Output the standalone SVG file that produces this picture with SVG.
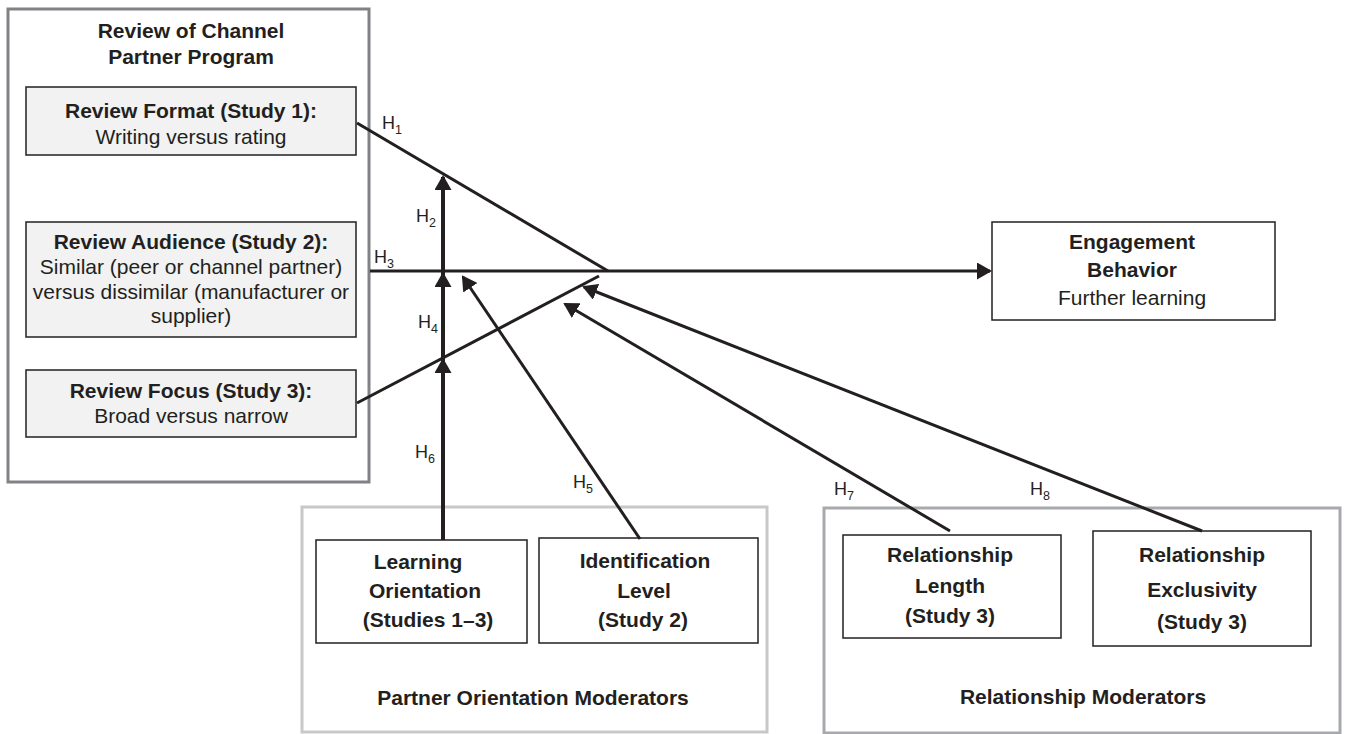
<svg xmlns="http://www.w3.org/2000/svg" width="1346" height="734" viewBox="0 0 1346 734">
<defs>
<style>
text{font-family:"Liberation Sans",Arial,sans-serif;fill:#231f20;font-size:21px}
.b{font-weight:bold}
.c{text-anchor:middle}
.h{font-size:18px}
.s{font-size:12.5px}
.inner{fill:#f1f2f1;stroke:#231f20;stroke-width:1.5}
.wbox{fill:#fff;stroke:#231f20;stroke-width:1.5}
.conn{stroke:#231f20;stroke-width:3;fill:none}
.thick{stroke-width:4}
</style>
<marker id="ah" viewBox="0 0 15 17" refX="13" refY="8.5" markerWidth="15" markerHeight="17" markerUnits="userSpaceOnUse" orient="auto">
<path d="M0,0 L15,8.5 L0,17 z" fill="#231f20"/>
</marker>
</defs>
<rect width="1346" height="734" fill="#fff"/>

<g id="review-program">
<rect x="8" y="9" width="361" height="473" fill="#fff" stroke="#808285" stroke-width="3"/>
<text class="b c" x="191" y="38">Review of Channel</text>
<text class="b c" x="191" y="64">Partner Program</text>
</g>

<g id="review-format">
<rect class="inner" x="26" y="87" width="330" height="68"/>
<text class="b c" x="191" y="118">Review Format (Study 1):</text>
<text class="c" x="191" y="144">Writing versus rating</text>
</g>

<g id="review-audience">
<rect class="inner" x="26" y="222" width="330" height="115"/>
<text class="b c" x="191" y="249">Review Audience (Study 2):</text>
<text class="c" x="191" y="274">Similar (peer or channel partner)</text>
<text class="c" x="191" y="299">versus dissimilar (manufacturer or</text>
<text class="c" x="191" y="323">supplier)</text>
</g>

<g id="review-focus">
<rect class="inner" x="26" y="370" width="330" height="67"/>
<text class="b c" x="191" y="398">Review Focus (Study 3):</text>
<text class="c" x="191" y="423">Broad versus narrow</text>
</g>

<g id="engagement">
<rect class="wbox" x="992" y="222" width="283" height="98"/>
<text class="b c" x="1132" y="249">Engagement</text>
<text class="b c" x="1132" y="277">Behavior</text>
<text class="c" x="1132" y="305">Further learning</text>
</g>

<g id="partner-moderators">
<rect x="302" y="507" width="465" height="225" fill="#fff" stroke="#c7c8ca" stroke-width="3"/>
<text class="b c" x="533" y="705">Partner Orientation Moderators</text>
</g>

<g id="learning-orientation">
<rect class="wbox" x="316" y="540" width="211" height="103"/>
<text class="b c" x="418" y="569">Learning</text>
<text class="b c" x="425" y="598">Orientation</text>
<text class="b c" x="428" y="627">(Studies 1–3)</text>
</g>

<g id="identification-level">
<rect class="wbox" x="539" y="538" width="219" height="105"/>
<text class="b c" x="645" y="568">Identification</text>
<text class="b c" x="644" y="598">Level</text>
<text class="b c" x="643" y="627">(Study 2)</text>
</g>

<g id="relationship-moderators">
<rect x="824" y="508" width="516" height="225" fill="#fff" stroke="#a7a9ac" stroke-width="3"/>
<text class="b c" x="1083" y="704">Relationship Moderators</text>
</g>

<g id="relationship-length">
<rect class="wbox" x="843" y="535" width="218" height="103"/>
<text class="b c" x="950" y="562">Relationship</text>
<text class="b c" x="950" y="593">Length</text>
<text class="b c" x="950" y="623">(Study 3)</text>
</g>

<g id="relationship-exclusivity">
<rect class="wbox" x="1093" y="531" width="218" height="115"/>
<text class="b c" x="1202" y="562">Relationship</text>
<text class="b c" x="1202" y="597">Exclusivity</text>
<text class="b c" x="1202" y="629">(Study 3)</text>
</g>

<g id="connectors">
<line class="conn" x1="357" y1="123" x2="608" y2="271"/>
<line class="conn" x1="357" y1="403" x2="599" y2="276"/>
<line class="conn" x1="370" y1="271" x2="990" y2="271" marker-end="url(#ah)"/>
<line class="conn thick" x1="443" y1="540" x2="443" y2="360" marker-end="url(#ah)"/>
<line class="conn thick" x1="443" y1="360" x2="443" y2="274" marker-end="url(#ah)"/>
<line class="conn thick" x1="443" y1="274" x2="443" y2="177" marker-end="url(#ah)"/>
<line class="conn" x1="640" y1="539" x2="463" y2="277" marker-end="url(#ah)"/>
<line class="conn" x1="950" y1="531" x2="565" y2="304" marker-end="url(#ah)"/>
<line class="conn" x1="1202" y1="531" x2="584" y2="287" marker-end="url(#ah)"/>
</g>

<g id="labels">
<text class="h" x="382" y="129">H<tspan class="s" dy="5">1</tspan></text>
<text class="h" x="416" y="222">H<tspan class="s" dy="5">2</tspan></text>
<text class="h" x="374" y="263">H<tspan class="s" dy="5">3</tspan></text>
<text class="h" x="418" y="328">H<tspan class="s" dy="5">4</tspan></text>
<text class="h" x="573" y="488">H<tspan class="s" dy="5">5</tspan></text>
<text class="h" x="415" y="458">H<tspan class="s" dy="5">6</tspan></text>
<text class="h" x="834" y="495">H<tspan class="s" dy="5">7</tspan></text>
<text class="h" x="1030" y="495">H<tspan class="s" dy="5">8</tspan></text>
</g>
</svg>
